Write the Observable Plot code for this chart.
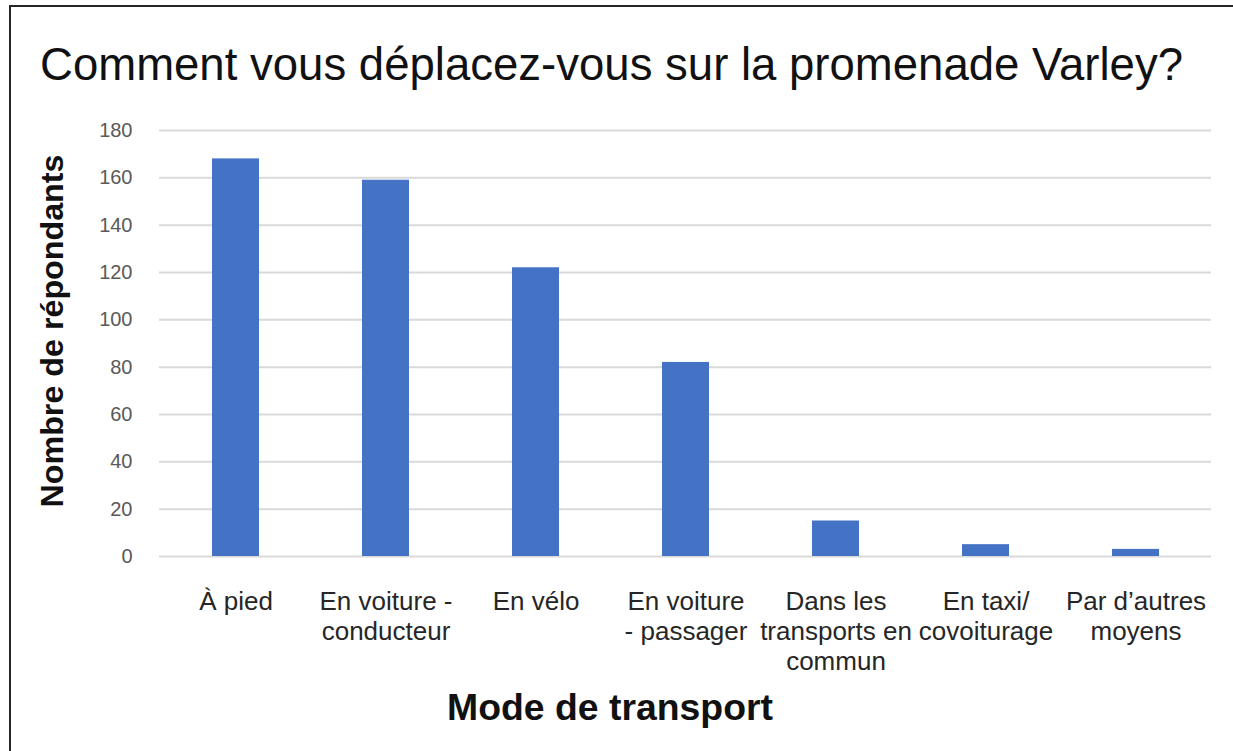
<!DOCTYPE html>
<html>
<head>
<meta charset="utf-8">
<script src="https://cdn.jsdelivr.net/npm/d3@7"></script>
<script src="https://cdn.jsdelivr.net/npm/@observablehq/plot@0.6"></script>
<style>
  html, body { margin: 0; padding: 0; background: #fff; }
  #wrap { position: relative; width: 1233px; height: 751px; overflow: hidden; background: #fff; font-family: "Liberation Sans", Arial, sans-serif; }
  #frame { position: absolute; left: 9px; top: 5px; width: 1300px; height: 800px; border-top: 2px solid #262626; border-left: 2px solid #262626; }
  #chart { position: absolute; left: 0; top: 0; }
  #overlay { position: absolute; left: 0; top: 0; pointer-events: none; }
</style>
</head>
<body>
<div id="wrap">
  <div id="frame"></div>
  <div id="chart"></div>
  <svg id="overlay" width="1233" height="751"></svg>
</div>
<script>
const title = "Comment vous déplacez-vous sur la promenade Varley?";
const yTitle = "Nombre de répondants";
const xTitle = "Mode de transport";
const categories = [
  "À pied",
  "En voiture -\nconducteur",
  "En vélo",
  "En voiture\n- passager",
  "Dans les\ntransports en\ncommun",
  "En taxi/\ncovoiturage",
  "Par d’autres\nmoyens"
];
const values = [168, 159, 122, 82, 15, 5, 3];
const yTicks = [0, 20, 40, 60, 80, 100, 120, 140, 160, 180];

const data = categories.map((c, i) => ({mode: c, count: values[i]}));

const chart = Plot.plot({
  width: 1233,
  height: 751,
  marginTop: 130,
  marginBottom: 195,
  marginLeft: 159,
  marginRight: 22,
  style: {fontFamily: "'Liberation Sans', Arial, sans-serif", background: "transparent"},
  x: {domain: categories, paddingInner: 0.69, paddingOuter: 0.345, label: null},
  y: {domain: [0, 180], label: null},
  marks: [
    Plot.gridY(yTicks, {stroke: "#d9d9d9", strokeOpacity: 1, strokeWidth: 2}),
    Plot.barY(data, {x: "mode", y: "count", fill: "#4472c4"}),
    Plot.axisY(yTicks, {tickSize: 0, tickPadding: 27, fontSize: 20, fill: "#595959", label: null}),
    Plot.axisX({tickSize: 0, tickPadding: 32, fontSize: 26, fill: "#262626", lineHeight: 1.15, label: null})
  ]
});
document.getElementById("chart").appendChild(chart);

const ov = d3.select("#overlay");
ov.append("text")
  .attr("x", 40).attr("y", 80)
  .attr("font-size", 47)
  .attr("fill", "#111")
  .attr("textLength", 1143)
  .attr("lengthAdjust", "spacingAndGlyphs")
  .text(title);
ov.append("text")
  .attr("transform", "translate(63,331) rotate(-90)")
  .attr("text-anchor", "middle")
  .attr("font-size", 31)
  .attr("font-weight", "bold")
  .attr("fill", "#111")
  .attr("textLength", 353)
  .attr("lengthAdjust", "spacingAndGlyphs")
  .text(yTitle);
ov.append("text")
  .attr("x", 610).attr("y", 720)
  .attr("text-anchor", "middle")
  .attr("font-size", 37)
  .attr("font-weight", "bold")
  .attr("fill", "#111")
  .attr("textLength", 326)
  .attr("lengthAdjust", "spacingAndGlyphs")
  .text(xTitle);
</script>
</body>
</html>
